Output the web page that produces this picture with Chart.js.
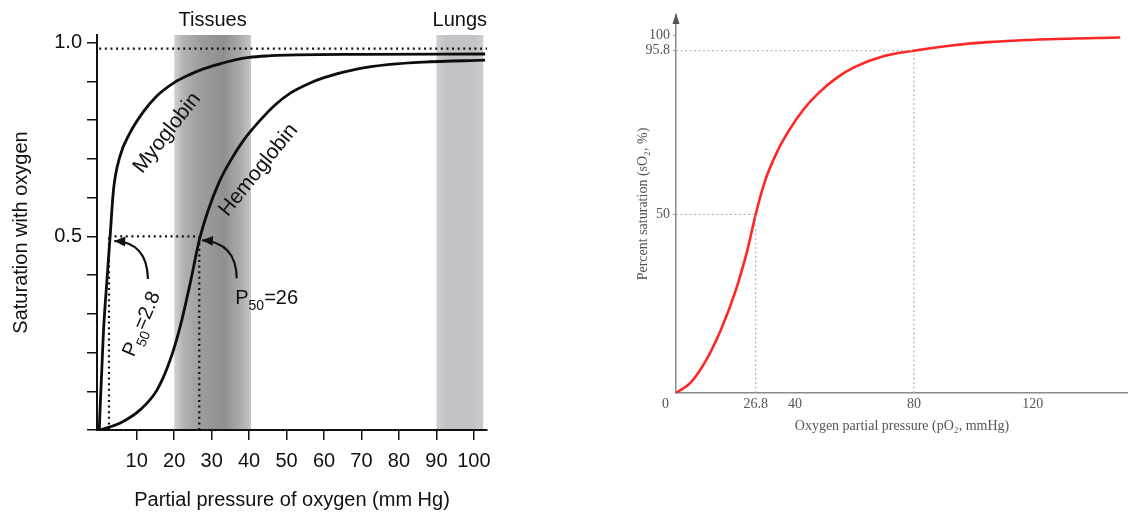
<!DOCTYPE html>
<html><head><meta charset="utf-8">
<script src="https://cdn.jsdelivr.net/npm/chart.js@4/dist/chart.umd.min.js"></script>
<style>
html,body{margin:0;padding:0;background:#fff;width:1128px;height:515px;overflow:hidden;position:relative}
canvas{position:absolute;top:0}
#c1{left:0}
#c2{left:620px}
</style></head><body>
<canvas id="c1" width="500" height="515"></canvas>
<canvas id="c2" width="508" height="450"></canvas>
<script>
// ---------- Left chart: myoglobin vs hemoglobin ----------
const myoX  = [0, 1.1, 2.0, 2.9, 3.8, 5.5, 8.2, 11.8, 15.3, 20, 24, 28, 32, 36, 40, 45, 50, 70, 103];
const myoY  = [0, 0.25, 0.38, 0.5, 0.62, 0.706, 0.767, 0.822, 0.862, 0.897, 0.917, 0.933, 0.945, 0.955, 0.962, 0.966, 0.968, 0.97, 0.971];
const hemoX = [0, 2.9, 6, 10.9, 15.4, 18.9, 21.6, 24.3, 26.7, 29, 32, 35, 38.5, 42.5, 47, 51, 56, 60, 68.7, 77.6, 86.5, 103];
const hemoY = [0, 0.008, 0.02, 0.052, 0.103, 0.18, 0.267, 0.38, 0.49, 0.565, 0.64, 0.695, 0.748, 0.795, 0.84, 0.87, 0.895, 0.91, 0.932, 0.944, 0.95, 0.955];
const leftXTicks = [10, 20, 30, 40, 50, 60, 70, 80, 90, 100];
const leftYTicks = [0, 0.1, 0.2, 0.3, 0.4, 0.5, 0.6, 0.7, 0.8, 0.9, 1.0];
const leftYLabelled = [0.5, 1.0];
const tissuesBand = [20, 40.5];
const lungsBand = [90, 102.5];
const topDotY = 0.985;
const myoP50Line = 2.6, hemoP50Line = 26.7;

// ---------- Right chart: hemoglobin dissociation ----------
const pO2 = [0, 5, 10, 15, 20, 24, 26.8, 30, 34, 38, 43, 48, 54, 60, 70, 80, 92, 105, 125, 149.4];
const sO2 = [0, 3, 9, 17.5, 28.5, 40, 50, 59.5, 67.5, 73.5, 79.5, 84, 88.2, 91.2, 94.3, 95.8, 97.2, 98.2, 99, 99.5];
const rightXTicks = [0, 26.8, 40, 80, 120];
const rightYTicks = [50, 95.8, 100];
const refP50 = [26.8, 50];
const refArterial = [80, 95.8];

const pts = (xs, ys) => xs.map((v, i) => ({x: v, y: ys[i]}));
const SANS = "'Liberation Sans', Arial, sans-serif";
const SERIF = "'Liberation Serif', 'Times New Roman', serif";

function drawP50(ctx, val, size, align) {
  const f1 = size + 'px ' + SANS, f2 = Math.round(size * 0.72) + 'px ' + SANS;
  ctx.font = f1; const wP = ctx.measureText('P').width; const wE = ctx.measureText('=' + val).width;
  ctx.font = f2; const wS = ctx.measureText('50').width;
  const w = wP + wS + wE;
  let x0 = align === 'center' ? -w / 2 : 0;
  const base = size * 0.36;
  ctx.textAlign = 'left'; ctx.textBaseline = 'alphabetic';
  ctx.font = f1; ctx.fillText('P', x0, base);
  ctx.font = f2; ctx.fillText('50', x0 + wP, base + size * 0.3);
  ctx.font = f1; ctx.fillText('=' + val, x0 + wP + wS, base);
}
function curvedArrow(ctx, s, c, t) {
  ctx.beginPath(); ctx.moveTo(s.x, s.y); ctx.quadraticCurveTo(c.x, c.y, t.x, t.y);
  ctx.lineWidth = 2.2; ctx.strokeStyle = '#111'; ctx.stroke();
  const ang = Math.atan2(t.y - c.y, t.x - c.x), L = 11, W = 5;
  ctx.beginPath(); ctx.moveTo(t.x, t.y);
  ctx.lineTo(t.x - L * Math.cos(ang) + W * Math.sin(ang), t.y - L * Math.sin(ang) - W * Math.cos(ang));
  ctx.lineTo(t.x - L * Math.cos(ang) - W * Math.sin(ang), t.y - L * Math.sin(ang) + W * Math.cos(ang));
  ctx.closePath(); ctx.fillStyle = '#111'; ctx.fill();
}

const leftDecor = {
  id: 'leftDecor',
  beforeDatasetsDraw(chart) {
    const {ctx, chartArea: a, scales: {x}} = chart;
    ctx.save();
    const t1 = x.getPixelForValue(tissuesBand[0]), t2 = x.getPixelForValue(tissuesBand[1]);
    const g = ctx.createLinearGradient(t1, 0, t2, 0);
    g.addColorStop(0, '#d2d2d2'); g.addColorStop(0.12, '#b2b2b2'); g.addColorStop(0.35, '#9c9c9c');
    g.addColorStop(0.65, '#909090'); g.addColorStop(0.85, '#a9a9a9'); g.addColorStop(1, '#c6c6c6');
    ctx.fillStyle = g; ctx.fillRect(t1, a.top, t2 - t1, a.bottom - a.top - 1);
    const l1 = x.getPixelForValue(lungsBand[0]), l2 = x.getPixelForValue(lungsBand[1]);
    const g2 = ctx.createLinearGradient(l1, 0, l2, 0);
    g2.addColorStop(0, '#d0d0d4'); g2.addColorStop(0.2, '#c3c3c7'); g2.addColorStop(0.8, '#c3c3c7'); g2.addColorStop(1, '#cdcdd0');
    ctx.fillStyle = g2; ctx.fillRect(l1, a.top, l2 - l1, a.bottom - a.top - 1);
    ctx.restore();
  },
  afterDatasetsDraw(chart) {
    const {ctx, chartArea: a, scales: {x, y}} = chart;
    ctx.save();
    ctx.fillStyle = '#111';
    ctx.font = '20px ' + SANS; ctx.textAlign = 'center'; ctx.textBaseline = 'middle';
    ctx.fillText('Tissues', x.getPixelForValue((tissuesBand[0] + tissuesBand[1]) / 2), a.top - 15);
    ctx.fillText('Lungs', x.getPixelForValue((lungsBand[0] + lungsBand[1]) / 2), a.top - 15);
    ctx.save(); ctx.translate(x.getPixelForValue(18.1), y.getPixelForValue(0.767)); ctx.rotate(-52 * Math.PI / 180);
    ctx.font = '21px ' + SANS; ctx.fillText('Myoglobin', 0, 0); ctx.restore();
    ctx.save(); ctx.translate(x.getPixelForValue(42.5), y.getPixelForValue(0.671)); ctx.rotate(-51 * Math.PI / 180);
    ctx.font = '21px ' + SANS; ctx.fillText('Hemoglobin', 0, 0); ctx.restore();
    ctx.save(); ctx.translate(x.getPixelForValue(11.0), y.getPixelForValue(0.275)); ctx.rotate(-67 * Math.PI / 180);
    drawP50(ctx, '2.8', 20, 'center'); ctx.restore();
    ctx.save(); ctx.translate(x.getPixelForValue(36.3), y.getPixelForValue(0.345));
    drawP50(ctx, '26', 20, 'left'); ctx.restore();
    const P = (vx, vy) => ({x: x.getPixelForValue(vx), y: y.getPixelForValue(vy)});
    curvedArrow(ctx, P(13.0, 0.39), P(12.8, 0.485), P(4.0, 0.488));
    curvedArrow(ctx, P(36.7, 0.392), P(36.5, 0.485), P(27.4, 0.49));
    ctx.restore();
  }
};

const dotted = {borderColor: '#111', borderWidth: 2.2, borderDash: [2, 3.6], pointRadius: 0, fill: false, tension: 0, borderCapStyle: 'butt'};
new Chart(document.getElementById('c1'), {
  type: 'line',
  data: {datasets: [
    Object.assign({label: 'top', data: [{x: 0, y: topDotY}, {x: 103.5, y: topDotY}]}, dotted),
    Object.assign({label: 'p50h', data: [{x: myoP50Line, y: 0.5}, {x: hemoP50Line, y: 0.5}]}, dotted),
    Object.assign({label: 'p50myo', data: [{x: myoP50Line, y: 0}, {x: myoP50Line, y: 0.5}]}, dotted),
    Object.assign({label: 'p50hemo', data: [{x: hemoP50Line, y: 0}, {x: hemoP50Line, y: 0.5}]}, dotted),
    {label: 'Myoglobin', data: pts(myoX, myoY), borderColor: '#0d0d0d', borderWidth: 2.8, pointRadius: 0, cubicInterpolationMode: 'monotone'},
    {label: 'Hemoglobin', data: pts(hemoX, hemoY), borderColor: '#0d0d0d', borderWidth: 2.8, pointRadius: 0, cubicInterpolationMode: 'monotone'}
  ]},
  options: {
    responsive: false, animation: false, devicePixelRatio: 1,
    layout: {padding: {left: 0, right: 13, top: 35, bottom: 0}},
    plugins: {legend: {display: false}, tooltip: {enabled: false}},
    scales: {
      x: {type: 'linear', min: -0.6, max: 103.5,
        afterBuildTicks: s => { s.ticks = leftXTicks.map(v => ({value: v})); },
        afterFit: s => { s.height = 85; },
        grid: {drawOnChartArea: false, drawTicks: true, tickLength: 10, color: '#111', lineWidth: 1.5},
        border: {display: true, color: '#111', width: 2},
        ticks: {color: '#111', font: {family: SANS, size: 20}, padding: 9, maxRotation: 0, autoSkip: false},
        title: {display: true, text: 'Partial pressure of oxygen (mm Hg)', color: '#111', font: {family: SANS, size: 20}, padding: {top: 0, bottom: 3}}
      },
      y: {type: 'linear', min: 0, max: 1.02,
        afterBuildTicks: s => { s.ticks = leftYTicks.map(v => ({value: v})); },
        afterFit: s => { s.width = 97; },
        grid: {drawOnChartArea: false, drawTicks: true, tickLength: 10, color: '#111', lineWidth: 1.5},
        border: {display: true, color: '#111', width: 2},
        ticks: {color: '#111', font: {family: SANS, size: 20}, padding: 5, autoSkip: false,
          callback: v => leftYLabelled.some(t => Math.abs(t - v) < 1e-6) ? Number(v).toFixed(1) : ''},
        title: {display: true, text: 'Saturation with oxygen', color: '#111', font: {family: SANS, size: 20}, padding: {top: 9, bottom: 0}}
      }
    }
  },
  plugins: [leftDecor]
});

// ---------- Right chart ----------
const rightDecor = {
  id: 'rightDecor',
  afterDraw(chart) {
    const {ctx, chartArea: a, scales: {x}} = chart;
    const ax = x.getPixelForValue(0);
    ctx.save(); ctx.fillStyle = '#555';
    ctx.beginPath(); ctx.moveTo(ax, a.top - 2); ctx.lineTo(ax - 3.5, a.top + 9); ctx.lineTo(ax + 3.5, a.top + 9); ctx.closePath(); ctx.fill();
    ctx.restore();
  }
};
const grey = {borderColor: '#a8a8a8', borderWidth: 1, borderDash: [2, 2.5], pointRadius: 0, fill: false, tension: 0};
new Chart(document.getElementById('c2'), {
  type: 'line',
  data: {datasets: [
    Object.assign({label: 'h958', data: [{x: 0, y: refArterial[1]}, {x: refArterial[0], y: refArterial[1]}]}, grey),
    Object.assign({label: 'v80', data: [{x: refArterial[0], y: 0}, {x: refArterial[0], y: refArterial[1]}]}, grey),
    Object.assign({label: 'h50', data: [{x: 0, y: refP50[1]}, {x: refP50[0], y: refP50[1]}]}, grey),
    Object.assign({label: 'v268', data: [{x: refP50[0], y: 0}, {x: refP50[0], y: refP50[1]}]}, grey),
    {label: 'sO2', data: pts(pO2, sO2), borderColor: '#ff2626', borderWidth: 2.6, pointRadius: 0, cubicInterpolationMode: 'monotone'}
  ]},
  options: {
    responsive: false, animation: false, devicePixelRatio: 1,
    layout: {padding: {left: 0, right: 0, top: 15, bottom: 0}},
    plugins: {legend: {display: false}, tooltip: {enabled: false}},
    scales: {
      x: {type: 'linear', min: 0, max: 152,
        afterBuildTicks: s => { s.ticks = rightXTicks.map(v => ({value: v})); },
        afterFit: s => { s.height = 57; },
        grid: {display: false, drawTicks: false},
        border: {display: true, color: '#8a8a8a', width: 1.5},
        ticks: {color: '#555', font: {family: SERIF, size: 14}, padding: 3, maxRotation: 0, autoSkip: false,
          callback: v => v === 0 ? '0      ' : String(v)},
        title: {display: true, text: 'Oxygen partial pressure (pO\u2082, mmHg)', color: '#555', font: {family: SERIF, size: 14}, padding: {top: 0, bottom: 15}}
      },
      y: {type: 'linear', min: 0, max: 105.8,
        afterBuildTicks: s => { s.ticks = rightYTicks.map(v => ({value: v})); },
        afterFit: s => { s.width = 56; },
        grid: {drawOnChartArea: false, drawTicks: true, tickLength: 3, color: '#999'},
        border: {display: true, color: '#8a8a8a', width: 1.5},
        ticks: {color: '#555', font: {family: SERIF, size: 14}, padding: 3, autoSkip: false, callback: v => String(v)},
        title: {display: true, text: 'Percent saturation (sO\u2082, %)', color: '#555', font: {family: SERIF, size: 14}, padding: {top: 15, bottom: 0}}
      }
    }
  },
  plugins: [rightDecor]
});
</script>
</body></html>
